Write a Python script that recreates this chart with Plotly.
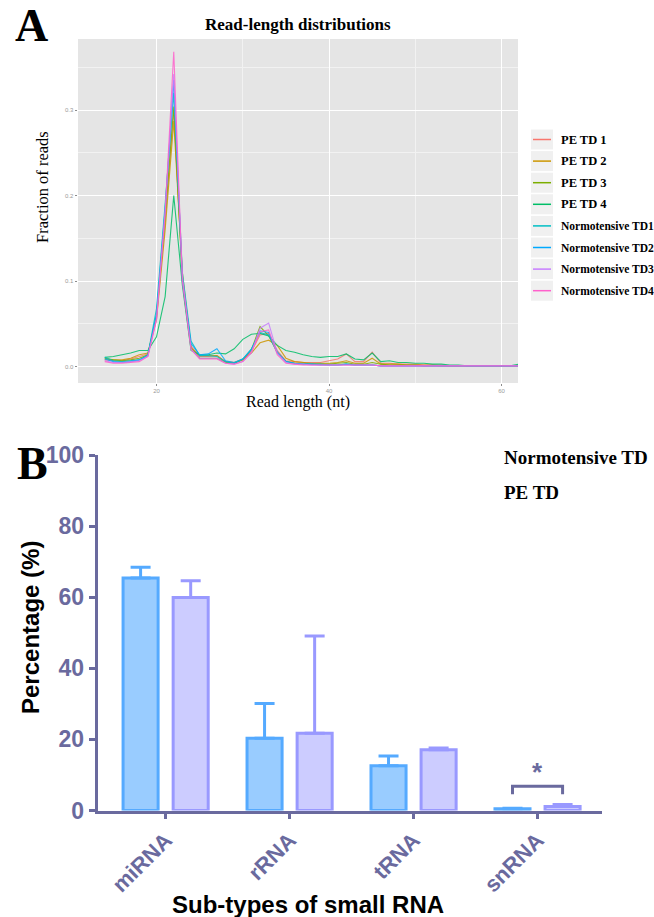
import plotly.graph_objects as go

W, H = 654, 917

# ---------------- Panel A data ----------------
read_length = [14, 15, 16, 17, 18, 19, 20, 21, 22, 23, 24, 25, 26, 27, 28, 29, 30, 31, 32, 33,
               34, 35, 36, 37, 38, 39, 40, 41, 42, 43, 44, 45, 46, 47, 48, 49, 50, 51, 52, 53,
               54, 55, 56, 57, 58, 59, 60, 61, 62]

pe_td1 = [0.008, 0.007, 0.007, 0.009, 0.012, 0.015, 0.058, 0.170, 0.300, 0.105,
          0.024, 0.012, 0.012, 0.013, 0.006, 0.005, 0.008, 0.018, 0.037, 0.039,
          0.019, 0.007, 0.006, 0.005, 0.005, 0.005, 0.007, 0.009, 0.015, 0.006,
          0.006, 0.017, 0.004, 0.004, 0.003, 0.003, 0.003, 0.002, 0.002, 0.002,
          0.001, 0.001, 0.001, 0.001, 0.001, 0.001, 0.001, 0.001, 0.001]
pe_td2 = [0.009, 0.008, 0.008, 0.010, 0.014, 0.016, 0.055, 0.160, 0.287, 0.110,
          0.022, 0.013, 0.013, 0.013, 0.006, 0.005, 0.009, 0.016, 0.028, 0.031,
          0.025, 0.010, 0.006, 0.005, 0.004, 0.004, 0.004, 0.005, 0.007, 0.004,
          0.004, 0.010, 0.003, 0.003, 0.003, 0.002, 0.002, 0.002, 0.002, 0.001,
          0.001, 0.001, 0.001, 0.001, 0.001, 0.001, 0.001, 0.001, 0.001]
pe_td3 = [0.010, 0.008, 0.007, 0.008, 0.010, 0.014, 0.060, 0.175, 0.304, 0.100,
          0.022, 0.010, 0.010, 0.010, 0.005, 0.004, 0.008, 0.020, 0.047, 0.036,
          0.017, 0.006, 0.004, 0.004, 0.003, 0.003, 0.003, 0.004, 0.005, 0.003,
          0.003, 0.005, 0.003, 0.002, 0.002, 0.002, 0.002, 0.001, 0.001, 0.001,
          0.001, 0.001, 0.001, 0.001, 0.001, 0.001, 0.001, 0.001, 0.001]
pe_td4 = [0.011, 0.012, 0.014, 0.016, 0.019, 0.019, 0.035, 0.082, 0.200, 0.095,
          0.019, 0.014, 0.014, 0.016, 0.015, 0.021, 0.032, 0.038, 0.039, 0.036,
          0.025, 0.019, 0.017, 0.014, 0.012, 0.011, 0.012, 0.012, 0.015, 0.009,
          0.008, 0.016, 0.006, 0.007, 0.005, 0.005, 0.004, 0.004, 0.003, 0.003,
          0.002, 0.002, 0.001, 0.001, 0.001, 0.001, 0.001, 0.001, 0.003]
nt_td1 = [0.011, 0.007, 0.006, 0.007, 0.008, 0.014, 0.068, 0.190, 0.320, 0.110,
          0.030, 0.013, 0.013, 0.012, 0.006, 0.004, 0.009, 0.021, 0.040, 0.037,
          0.016, 0.006, 0.004, 0.003, 0.003, 0.003, 0.002, 0.002, 0.003, 0.002,
          0.002, 0.002, 0.001, 0.001, 0.001, 0.001, 0.001, 0.001, 0.001, 0.001,
          0.001, 0.001, 0.001, 0.001, 0.001, 0.001, 0.001, 0.001, 0.001]
nt_td2 = [0.009, 0.006, 0.005, 0.006, 0.008, 0.013, 0.062, 0.185, 0.335, 0.100,
          0.027, 0.014, 0.015, 0.021, 0.007, 0.005, 0.009, 0.020, 0.042, 0.040,
          0.017, 0.006, 0.004, 0.003, 0.003, 0.002, 0.002, 0.002, 0.003, 0.002,
          0.002, 0.002, 0.001, 0.001, 0.001, 0.001, 0.001, 0.001, 0.001, 0.001,
          0.001, 0.001, 0.001, 0.001, 0.001, 0.001, 0.001, 0.001, 0.001]
nt_td3 = [0.007, 0.005, 0.005, 0.006, 0.007, 0.012, 0.056, 0.180, 0.342, 0.105,
          0.021, 0.010, 0.010, 0.010, 0.004, 0.003, 0.006, 0.016, 0.045, 0.051,
          0.016, 0.005, 0.003, 0.003, 0.002, 0.002, 0.002, 0.002, 0.002, 0.002,
          0.002, 0.002, 0.001, 0.001, 0.001, 0.001, 0.001, 0.001, 0.001, 0.001,
          0.001, 0.001, 0.001, 0.001, 0.001, 0.001, 0.001, 0.001, 0.001]
nt_td4 = [0.006, 0.004, 0.004, 0.005, 0.006, 0.012, 0.055, 0.180, 0.368, 0.100,
          0.020, 0.009, 0.009, 0.009, 0.004, 0.003, 0.006, 0.017, 0.041, 0.043,
          0.014, 0.004, 0.003, 0.002, 0.002, 0.002, 0.002, 0.002, 0.002, 0.002,
          0.002, 0.002, 0.001, 0.001, 0.001, 0.001, 0.001, 0.001, 0.001, 0.001,
          0.001, 0.001, 0.001, 0.001, 0.001, 0.001, 0.001, 0.001, 0.001]

series_names = ["PE TD 1", "PE TD 2", "PE TD 3", "PE TD 4",
                "Normotensive TD1", "Normotensive TD2", "Normotensive TD3", "Normotensive TD4"]
series_values = [pe_td1, pe_td2, pe_td3, pe_td4, nt_td1, nt_td2, nt_td3, nt_td4]
series_colors = ["#F8766D", "#CD9600", "#7CAE00", "#00BE67",
                 "#00BFC4", "#00A9FF", "#C77CFF", "#FF61CC"]

# ---------------- Panel B data ----------------
rna_types = ["miRNA", "rRNA", "tRNA", "snRNA"]
rna_pos = [0, 1, 2, 3]
normo_mean = [65.4, 20.3, 12.6, 0.5]
normo_err = [3.0, 9.8, 2.7, 0.1]
pe_mean = [59.9, 21.7, 17.1, 1.1]
pe_err = [4.7, 27.4, 0.5, 0.6]
bracket_x = [2.798, 2.798, 3.202, 3.202]
bracket_y = [4.6, 6.8, 6.8, 4.6]
star_pos = (3, 10.8)

SERIF = "Liberation Serif, Times New Roman, serif"
SANS = "Liberation Sans, Arial, sans-serif"
SLATE = "#6A6A9E"


def px(x):
    return x / W


def py(y):
    return 1 - y / H


fig = go.Figure()

for i, (name, vals, col) in enumerate(zip(series_names, series_values, series_colors)):
    fig.add_trace(go.Scatter(
        x=read_length, y=vals, mode="lines", name=name, showlegend=False,
        line=dict(color=col, width=1.1), opacity=0.85, xaxis="x", yaxis="y"))

fig.add_trace(go.Bar(
    x=rna_pos, y=normo_mean, name="Normotensive TD", showlegend=False,
    marker=dict(color="#99CCFF", line=dict(color="#55AAFF", width=3)),
    error_y=dict(type="data", symmetric=False, array=normo_err,
                 arrayminus=[0, 0, 0, 0], color="#55AAFF", thickness=3, width=10),
    xaxis="x2", yaxis="y2"))
fig.add_trace(go.Bar(
    x=rna_pos, y=pe_mean, name="PE TD", showlegend=False,
    marker=dict(color="#CCCCFF", line=dict(color="#9999FF", width=3)),
    error_y=dict(type="data", symmetric=False, array=pe_err,
                 arrayminus=[0, 0, 0, 0], color="#9999FF", thickness=3, width=10),
    xaxis="x2", yaxis="y2"))
fig.add_trace(go.Scatter(
    x=bracket_x, y=bracket_y, mode="lines", showlegend=False,
    line=dict(color=SLATE, width=3), xaxis="x2", yaxis="y2", hoverinfo="skip"))

shapes = [dict(type="rect", xref="x domain", yref="y domain", x0=0, x1=1, y0=0, y1=1,
               fillcolor="#E5E5E5", line=dict(width=0), layer="below")]

annotations = []


def txt(text, x, y, size, family=SERIF, bold=True, angle=0, xanchor="center", color="black"):
    annotations.append(dict(
        text=text, x=px(x), y=py(y), xref="paper", yref="paper", showarrow=False,
        xanchor=xanchor, yanchor="middle", textangle=angle,
        font=dict(family=family, size=size, color=color, weight="bold" if bold else "normal")))


# manual ggplot-style legend for panel A
for i, (name, col) in enumerate(zip(series_names, series_colors)):
    cy = 139.5 + 21.6 * i
    shapes.append(dict(type="rect", xref="paper", yref="paper",
                       x0=px(531), x1=px(553), y0=py(cy + 10), y1=py(cy - 10),
                       fillcolor="#F0F0F0", line=dict(width=0), layer="below"))
    shapes.append(dict(type="line", xref="paper", yref="paper",
                       x0=px(533), x1=px(551), y0=py(cy), y1=py(cy),
                       line=dict(color=col, width=1.5)))
    txt(name, 559, cy, 12.5 if name.startswith("PE") else 11.5, xanchor="left")

txt("A", 31, 26, 46)
txt("B", 32, 463, 46)
txt("Read-length distributions", 298, 25, 17)
txt("Fraction of reads", 42, 187, 16.5, bold=False, angle=-90)
txt("Read length (nt)", 298, 402, 16, bold=False)
txt("Percentage (%)", 30, 628, 24, family=SANS, angle=-90)
txt("Sub-types of small RNA", 308, 904, 24, family=SANS)
txt("Normotensive TD", 502, 457, 19, xanchor="left")
txt("PE TD", 502, 492, 19, xanchor="left")

annotations.append(dict(text="*", x=star_pos[0], y=star_pos[1], xref="x2", yref="y2",
                        showarrow=False, xanchor="center", yanchor="middle",
                        font=dict(family=SANS, size=26, color=SLATE, weight="bold")))

fig.update_layout(
    width=W, height=H, margin=dict(l=0, r=0, t=0, b=0, autoexpand=False),
    paper_bgcolor="white", plot_bgcolor="rgba(0,0,0,0)",
    showlegend=False,
    barmode="group", bargap=0.192, bargroupgap=0.3,
    xaxis=dict(domain=[px(78), px(518)], range=[10.9, 61.9], anchor="y",
               tickmode="linear", tick0=0, dtick=20, showgrid=True,
               gridcolor="white", gridwidth=1.2, zeroline=False,
               minor=dict(dtick=10, showgrid=True, gridcolor="#F2F2F2", gridwidth=0.6),
               ticks="outside", ticklen=2, tickcolor="#8C8C8C", tickwidth=0.6,
               tickfont=dict(family=SANS, size=6, color="#9A9A9A"), showline=False),
    yaxis=dict(domain=[py(383), py(39)], range=[-0.019, 0.383], anchor="x",
               tickmode="linear", tick0=0, dtick=0.1, tickformat=".1f", showgrid=True,
               gridcolor="white", gridwidth=1.2, zeroline=False,
               minor=dict(dtick=0.05, showgrid=True, gridcolor="#F2F2F2", gridwidth=0.6),
               ticks="outside", ticklen=2.5, tickcolor="#8C8C8C", tickwidth=0.6,
               tickfont=dict(family=SANS, size=6, color="#9A9A9A"), showline=False),
    xaxis2=dict(domain=[px(97.7), px(602)], range=[-0.548, 3.52], anchor="y2",
                tickmode="array", tickvals=rna_pos, ticktext=rna_types, tickangle=-45,
                showgrid=False, zeroline=False, showline=True, linecolor=SLATE, linewidth=3,
                ticks="outside", ticklen=5, tickwidth=3, tickcolor=SLATE,
                tickfont=dict(family=SANS, size=22, color=SLATE, weight="bold")),
    yaxis2=dict(domain=[py(810.5), py(455)], range=[0, 100], anchor="x2",
                tickmode="linear", tick0=0, dtick=20,
                showgrid=False, zeroline=False, showline=True, linecolor=SLATE, linewidth=3,
                ticks="outside", ticklen=6, tickwidth=3, tickcolor=SLATE,
                tickfont=dict(family=SANS, size=23, color=SLATE, weight="bold")),
    shapes=shapes,
    annotations=annotations,
)

fig.write_html("out.html", config={"displayModeBar": False},
               post_script="document.body.style.margin='0';document.body.style.overflow='hidden';")
